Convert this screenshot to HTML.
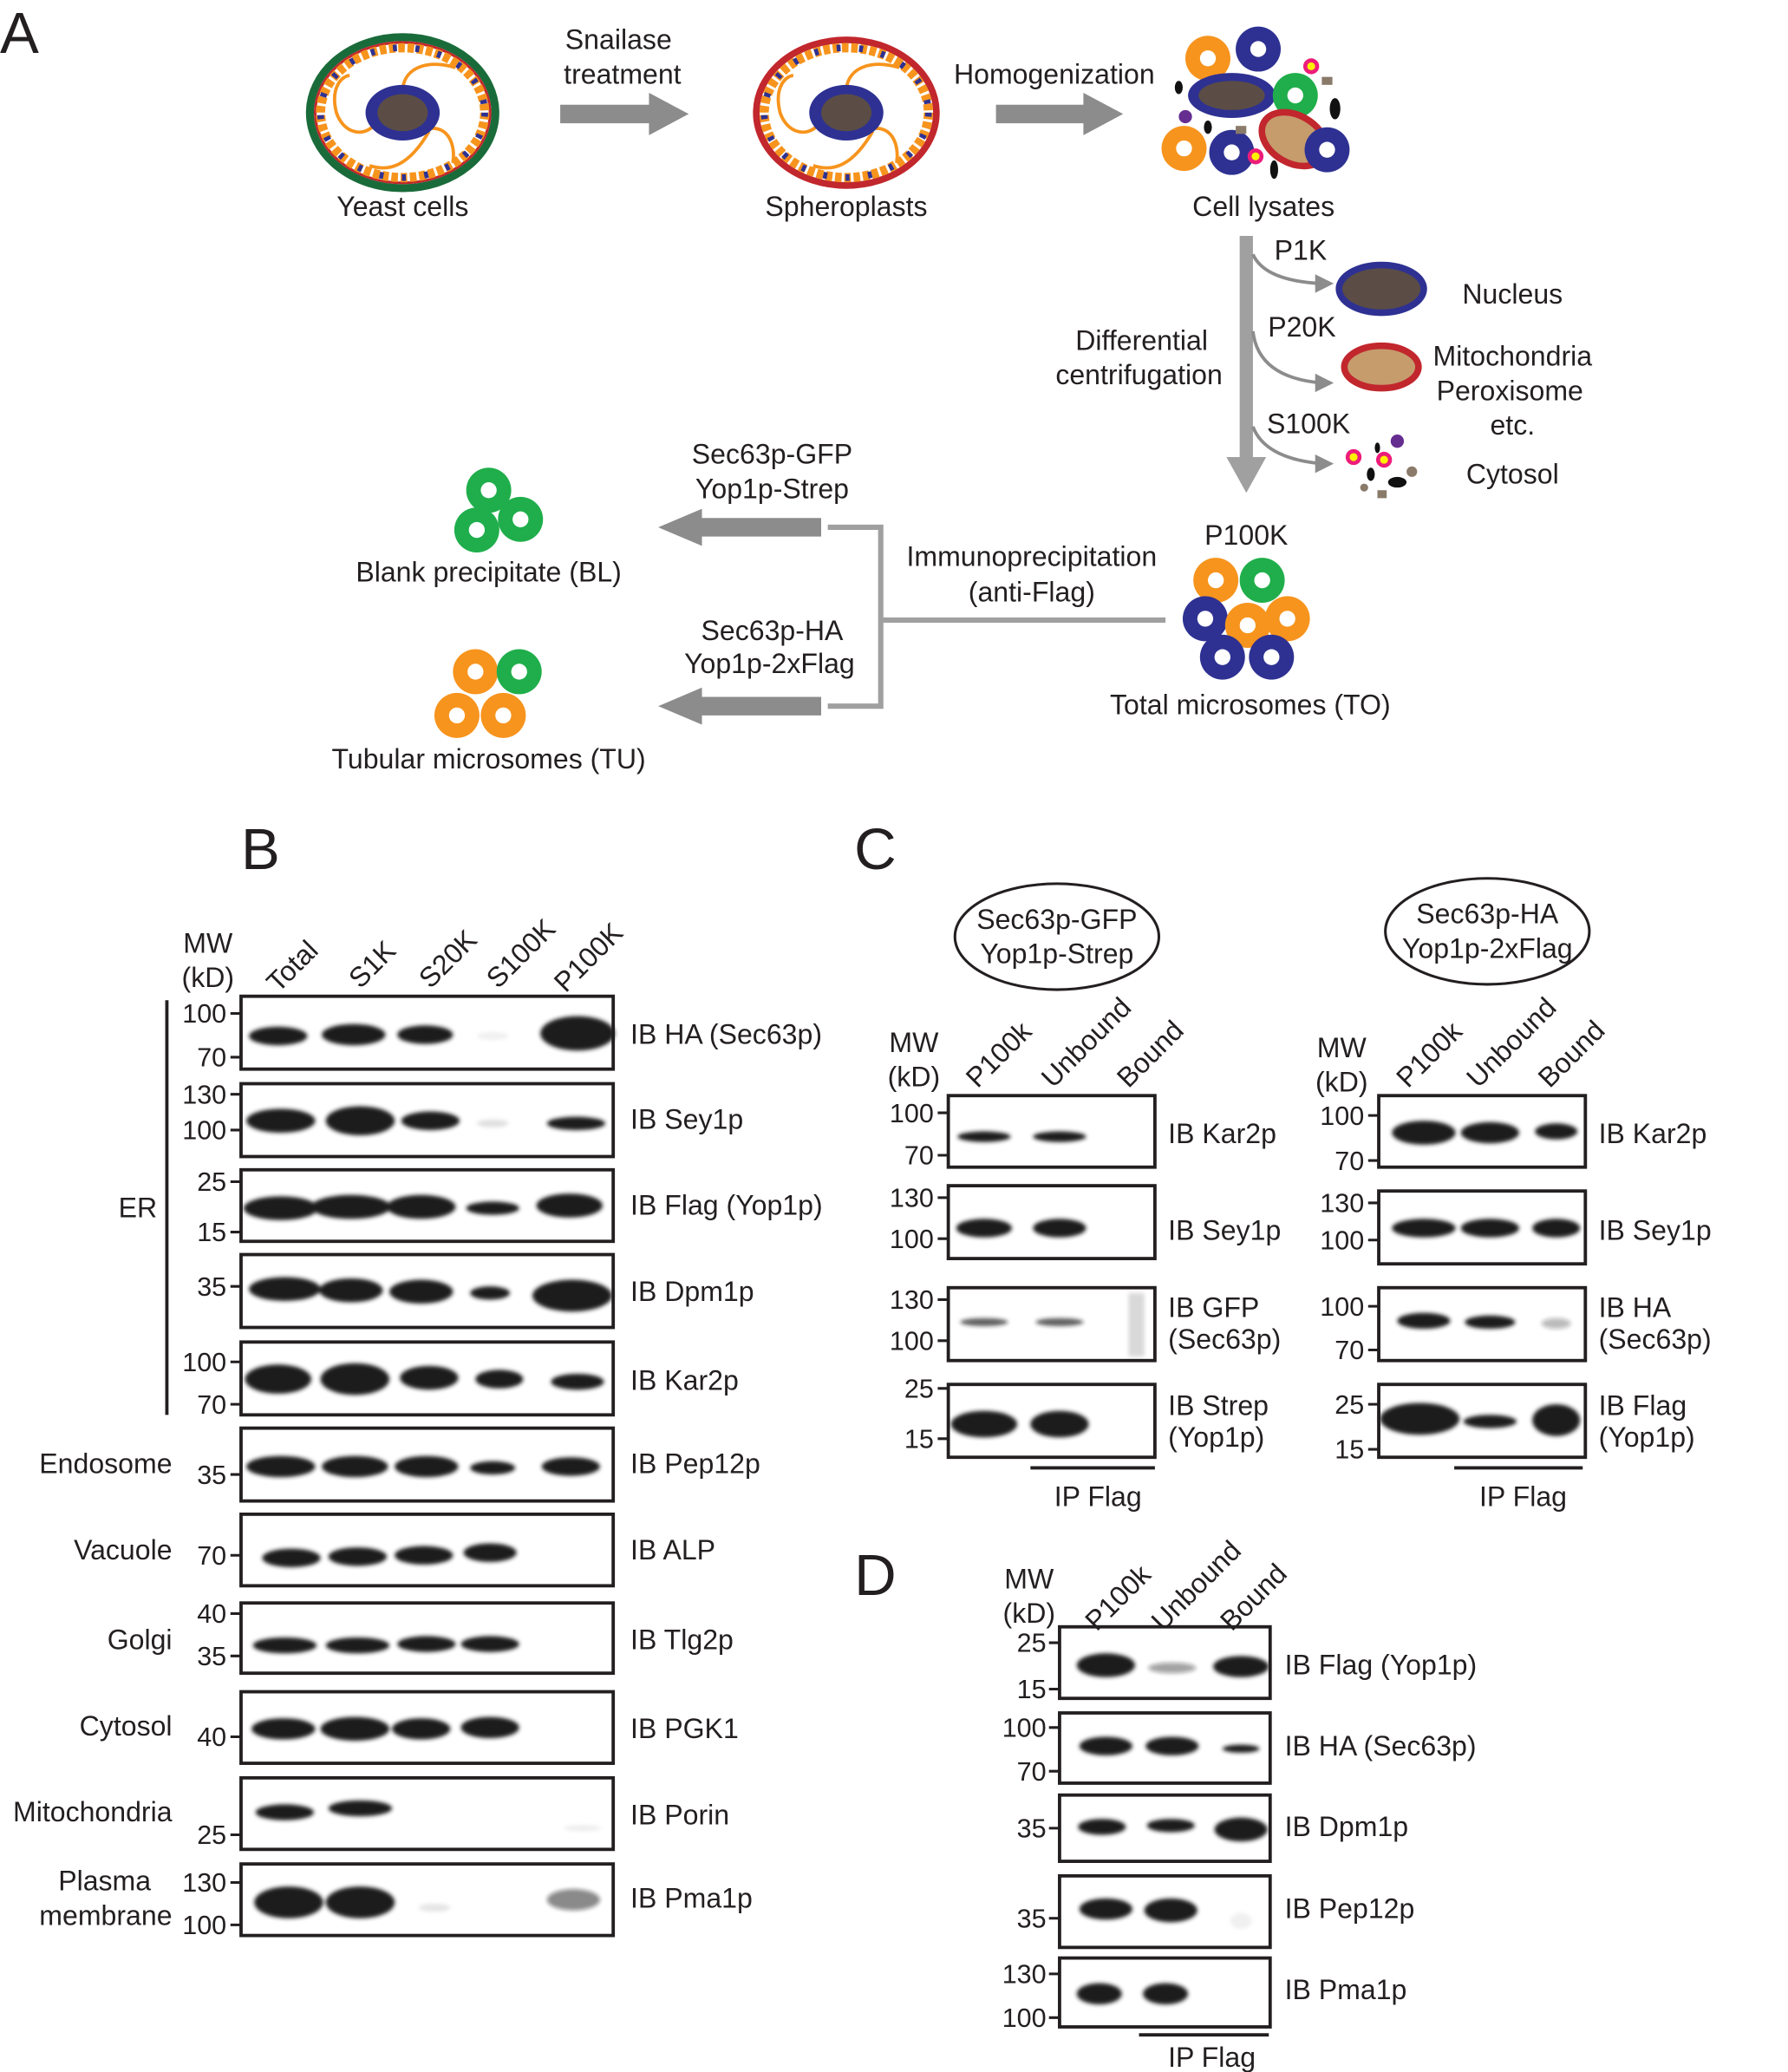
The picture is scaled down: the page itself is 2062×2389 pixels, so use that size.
<!DOCTYPE html>
<html><head><meta charset="utf-8"><style>
html,body{margin:0;padding:0;background:#fff}
svg{display:block}
text{font-family:"Liberation Sans",Arial,sans-serif;fill:#231f20}
</style></head><body>
<svg width="2062" height="2389" viewBox="0 0 1350 1564" xmlns="http://www.w3.org/2000/svg">
<defs>
<filter id="bl" x="-20%" y="-100%" width="140%" height="300%"><feGaussianBlur stdDeviation="1.6"/></filter>
<g id="cellin">
 <ellipse cx="0" cy="0" rx="62" ry="49" fill="none" stroke="#f7941d" stroke-width="7" stroke-dasharray="5 2"/>
 <ellipse cx="0" cy="0" rx="62" ry="49" fill="none" stroke="#2e3192" stroke-width="5" stroke-dasharray="3 14"/>
 <path d="M0,-18 C2,-35 20,-40 40,-34 M-20,8 C-30,20 -45,15 -50,0 C-55,-20 -45,-28 -40,-28 M20,12 C35,10 40,25 38,38 M20,14 C5,40 -10,45 -25,40" fill="none" stroke="#f7941d" stroke-width="2.5"/>
 <ellipse cx="0" cy="0" rx="28" ry="21" fill="#2e3192"/>
 <ellipse cx="0" cy="0" rx="19" ry="14" fill="#5b4d45"/>
</g>
<g id="og"><circle r="17" fill="#f7941d"/><circle r="6" fill="#fff"/></g>
<g id="gr"><circle r="17" fill="#1fae4b"/><circle r="6" fill="#fff"/></g>
<g id="bu"><circle r="17" fill="#2e3192"/><circle r="6" fill="#fff"/></g>
<g id="fl"><circle r="6" fill="#ed1c7a"/><circle r="3" fill="#fff200"/></g>
</defs>

<!-- Panel A -->
<text x="0" y="40" font-size="44">A</text>
<g transform="translate(304,85)"><ellipse rx="70" ry="57" fill="#fff" stroke="#1a6b3a" stroke-width="6"/><ellipse rx="66" ry="53" fill="none" stroke="#c1272d" stroke-width="2"/><use href="#cellin"/></g>
<text x="304" y="163" font-size="21" text-anchor="middle">Yeast cells</text>
<text x="467" y="37" font-size="21" text-anchor="middle">Snailase</text>
<text x="470" y="63" font-size="21" text-anchor="middle">treatment</text>
<polygon points="423,79 490,79 490,70 520,86 490,102 490,93 423,93" fill="#8c8c8c"/>
<g transform="translate(639,85)"><ellipse rx="68" ry="55" fill="#fff" stroke="#c1272d" stroke-width="5"/><use href="#cellin"/></g>
<text x="639" y="163" font-size="21" text-anchor="middle">Spheroplasts</text>
<text x="796" y="63" font-size="21" text-anchor="middle">Homogenization</text>
<polygon points="752,79 818,79 818,70 848,86 818,102 818,93 752,93" fill="#8c8c8c"/>
<use href="#og" x="912" y="44"/><use href="#bu" x="950" y="37"/><use href="#fl" x="990" y="50"/>
<ellipse cx="930" cy="72" rx="33" ry="17" fill="#2e3192"/><ellipse cx="930" cy="72" rx="25" ry="11" fill="#5b4d45"/>
<use href="#gr" x="978" y="72"/>
<ellipse cx="1008" cy="82" rx="4" ry="8" fill="#111"/><ellipse cx="890" cy="66" rx="3" ry="5" fill="#111"/>
<circle cx="895" cy="88" r="5" fill="#662d91"/><rect x="998" y="58" width="8" height="6" fill="#8a7a6a"/>
<use href="#og" x="894" y="112"/><use href="#bu" x="930" y="115"/><use href="#fl" x="948" y="118"/>
<ellipse cx="977" cy="105" rx="26" ry="18" fill="#c69c6d" stroke="#c1272d" stroke-width="5" transform="rotate(30 977 105)"/>
<use href="#bu" x="1002" y="113"/><ellipse cx="962" cy="128" rx="3" ry="7" fill="#111"/><rect x="933" y="95" width="8" height="6" fill="#8a7a6a"/><ellipse cx="912" cy="96" rx="3" ry="5" fill="#111"/>
<text x="954" y="163" font-size="21" text-anchor="middle">Cell lysates</text>
<polygon points="936,178 946,178 946,345 956,345 941,372 926,345 936,345" fill="#a0a0a0"/>
<g fill="none" stroke="#8c8c8c" stroke-width="2.5">
<path d="M946,192 Q955,212 998,214"/><path d="M946,250 Q950,285 998,289"/><path d="M946,322 Q955,346 998,350"/></g>
<g fill="#8c8c8c"><polygon points="1007,214 993,207 993,221"/><polygon points="1007,289 993,282 993,296"/><polygon points="1007,350 993,343 993,357"/></g>
<text x="982" y="196" font-size="21" text-anchor="middle">P1K</text>
<text x="983" y="254" font-size="21" text-anchor="middle">P20K</text>
<text x="988" y="327" font-size="21" text-anchor="middle">S100K</text>
<ellipse cx="1043" cy="218" rx="32" ry="18" fill="#5b4d45" stroke="#2e3192" stroke-width="5"/>
<ellipse cx="1043" cy="277" rx="28" ry="16" fill="#c69c6d" stroke="#c1272d" stroke-width="5"/>
<g><use href="#fl" x="1022" y="345"/><use href="#fl" x="1045" y="347"/><circle cx="1055" cy="333" r="5" fill="#662d91"/><ellipse cx="1040" cy="338" rx="2" ry="4" fill="#111"/><ellipse cx="1035" cy="358" rx="3" ry="5" fill="#111"/><ellipse cx="1055" cy="364" rx="7" ry="4" fill="#111"/><circle cx="1066" cy="356" r="4" fill="#8a7a6a"/><rect x="1040" y="370" width="7" height="6" fill="#8a7a6a"/><circle cx="1030" cy="368" r="3" fill="#8a7a6a"/></g>
<text x="1142" y="229" font-size="21" text-anchor="middle">Nucleus</text>
<text x="1142" y="276" font-size="21" text-anchor="middle">Mitochondria</text>
<text x="1140" y="302" font-size="21" text-anchor="middle">Peroxisome</text>
<text x="1142" y="328" font-size="21" text-anchor="middle">etc.</text>
<text x="1142" y="365" font-size="21" text-anchor="middle">Cytosol</text>
<text x="862" y="264" font-size="21" text-anchor="middle">Differential</text>
<text x="860" y="290" font-size="21" text-anchor="middle">centrifugation</text>
<text x="941" y="411" font-size="21" text-anchor="middle">P100K</text>
<use href="#og" x="918" y="438"/><use href="#gr" x="953" y="438"/><use href="#bu" x="910" y="467"/><use href="#og" x="942" y="472"/><use href="#og" x="972" y="467"/><use href="#bu" x="923" y="496"/><use href="#bu" x="960" y="496"/>
<text x="944" y="539" font-size="21" text-anchor="middle">Total microsomes (TO)</text>
<g stroke="#a0a0a0" stroke-width="4" fill="none"><path d="M880,468 H666"/><path d="M625,398 H665 V533 H625"/></g>
<polygon points="620,391 530,391 530,384 497,398 530,412 530,405 620,405" fill="#8c8c8c"/>
<polygon points="620,526 530,526 530,519 497,533 530,547 530,540 620,540" fill="#8c8c8c"/>
<text x="779" y="427" font-size="21" text-anchor="middle">Immunoprecipitation</text>
<text x="779" y="454" font-size="21" text-anchor="middle">(anti-Flag)</text>
<text x="583" y="350" font-size="21" text-anchor="middle">Sec63p-GFP</text>
<text x="583" y="376" font-size="21" text-anchor="middle">Yop1p-Strep</text>
<text x="583" y="483" font-size="21" text-anchor="middle">Sec63p-HA</text>
<text x="581" y="508" font-size="21" text-anchor="middle">Yop1p-2xFlag</text>
<use href="#gr" x="369" y="370"/><use href="#gr" x="393" y="392"/><use href="#gr" x="360" y="400"/>
<text x="369" y="439" font-size="21" text-anchor="middle">Blank precipitate (BL)</text>
<use href="#og" x="359" y="507"/><use href="#gr" x="392" y="507"/><use href="#og" x="345" y="540"/><use href="#og" x="380" y="540"/>
<text x="369" y="580" font-size="21" text-anchor="middle">Tubular microsomes (TU)</text>

<!-- Panel B -->
<text x="182" y="656" font-size="44">B</text>
<text x="157" y="719" font-size="21" text-anchor="middle">MW</text>
<text x="157" y="745" font-size="21" text-anchor="middle">(kD)</text>
<g font-size="21">
<text transform="translate(210,750) rotate(-45)">Total</text>
<text transform="translate(272,747) rotate(-45)">S1K</text>
<text transform="translate(325,747) rotate(-45)">S20K</text>
<text transform="translate(376,747) rotate(-45)">S100K</text>
<text transform="translate(427,750) rotate(-45)">P100K</text>
</g>
<line x1="126" y1="755" x2="126" y2="1068" stroke="#231f20" stroke-width="2.5"/>
<text x="104" y="919" font-size="21" text-anchor="middle">ER</text>
<g font-size="21" text-anchor="end">
<text x="130" y="1112">Endosome</text><text x="130" y="1177">Vacuole</text><text x="130" y="1245">Golgi</text><text x="130" y="1310">Cytosol</text><text x="130" y="1375">Mitochondria</text><text x="114" y="1427">Plasma</text><text x="130" y="1453">membrane</text>
</g>
<g fill="none" stroke="#231f20" stroke-width="2.5">
<rect x="182" y="752" width="281" height="55"/><rect x="182" y="818" width="281" height="55"/><rect x="182" y="883" width="281" height="54"/><rect x="182" y="947" width="281" height="55"/><rect x="182" y="1013" width="281" height="55"/><rect x="182" y="1078" width="281" height="55"/><rect x="182" y="1143" width="281" height="54"/><rect x="182" y="1210" width="281" height="53"/><rect x="182" y="1277" width="281" height="54"/><rect x="182" y="1342" width="281" height="54"/><rect x="182" y="1407" width="281" height="54"/>
</g>
<g stroke="#231f20" stroke-width="2">
<path d="M174,765H182M174,798H182M174,826H182M174,853H182M174,892H182M174,930H182M174,971H182M174,1028H182M174,1060H182M174,1113H182M174,1174H182M174,1218H182M174,1250H182M174,1311H182M174,1385H182M174,1421H182M174,1453H182"/>
</g>
<g font-size="20" text-anchor="end">
<text x="171" y="772">100</text><text x="171" y="805">70</text><text x="171" y="833">130</text><text x="171" y="860">100</text><text x="171" y="899">25</text><text x="171" y="937">15</text><text x="171" y="978">35</text><text x="171" y="1035">100</text><text x="171" y="1067">70</text><text x="171" y="1120">35</text><text x="171" y="1181">70</text><text x="171" y="1225">40</text><text x="171" y="1257">35</text><text x="171" y="1318">40</text><text x="171" y="1392">25</text><text x="171" y="1428">130</text><text x="171" y="1460">100</text>
</g>
<g font-size="21">
<text x="476" y="788">IB HA (Sec63p)</text><text x="476" y="852">IB Sey1p</text><text x="476" y="917">IB Flag (Yop1p)</text><text x="476" y="982">IB Dpm1p</text><text x="476" y="1049">IB Kar2p</text><text x="476" y="1112">IB Pep12p</text><text x="476" y="1177">IB ALP</text><text x="476" y="1245">IB Tlg2p</text><text x="476" y="1312">IB PGK1</text><text x="476" y="1377">IB Porin</text><text x="476" y="1440">IB Pma1p</text>
</g>
<g fill="#1a1a1a" filter="url(#bl)">
<ellipse cx="210" cy="782" rx="22" ry="7"/><ellipse cx="267" cy="781" rx="24" ry="8"/><ellipse cx="321" cy="781" rx="21" ry="7"/><ellipse cx="372" cy="782" rx="12" ry="3" opacity="0.06"/><ellipse cx="436" cy="780" rx="28" ry="13"/>
<ellipse cx="212" cy="846" rx="26" ry="9"/><ellipse cx="272" cy="846" rx="26" ry="11"/><ellipse cx="325" cy="846" rx="22" ry="7"/><ellipse cx="372" cy="848" rx="12" ry="3" opacity="0.12"/><ellipse cx="435" cy="848" rx="22" ry="5"/>
<ellipse cx="212" cy="912" rx="28" ry="9"/><ellipse cx="265" cy="911" rx="30" ry="9"/><ellipse cx="318" cy="911" rx="26" ry="9"/><ellipse cx="372" cy="912" rx="20" ry="5"/><ellipse cx="430" cy="910" rx="25" ry="9"/>
<ellipse cx="215" cy="973" rx="27" ry="9"/><ellipse cx="265" cy="974" rx="24" ry="9"/><ellipse cx="318" cy="975" rx="24" ry="9"/><ellipse cx="370" cy="976" rx="15" ry="5"/><ellipse cx="432" cy="978" rx="30" ry="12"/>
<ellipse cx="210" cy="1041" rx="25" ry="11"/><ellipse cx="268" cy="1041" rx="26" ry="12"/><ellipse cx="324" cy="1040" rx="22" ry="9"/><ellipse cx="377" cy="1041" rx="18" ry="7"/><ellipse cx="436" cy="1043" rx="20" ry="6"/>
<ellipse cx="212" cy="1107" rx="26" ry="8"/><ellipse cx="268" cy="1107" rx="25" ry="8"/><ellipse cx="322" cy="1107" rx="24" ry="8"/><ellipse cx="372" cy="1108" rx="17" ry="5"/><ellipse cx="431" cy="1107" rx="22" ry="7"/>
<ellipse cx="220" cy="1176" rx="22" ry="7"/><ellipse cx="270" cy="1175" rx="22" ry="7"/><ellipse cx="320" cy="1174" rx="22" ry="7"/><ellipse cx="370" cy="1172" rx="20" ry="7"/>
<ellipse cx="215" cy="1242" rx="24" ry="6"/><ellipse cx="270" cy="1242" rx="24" ry="6"/><ellipse cx="322" cy="1241" rx="22" ry="6"/><ellipse cx="370" cy="1241" rx="22" ry="6"/>
<ellipse cx="214" cy="1305" rx="24" ry="8"/><ellipse cx="268" cy="1305" rx="26" ry="9"/><ellipse cx="318" cy="1305" rx="22" ry="8"/><ellipse cx="370" cy="1304" rx="22" ry="8"/>
<ellipse cx="215" cy="1368" rx="22" ry="6"/><ellipse cx="272" cy="1365" rx="24" ry="6"/><ellipse cx="440" cy="1380" rx="14" ry="2" opacity="0.08"/>
<ellipse cx="218" cy="1436" rx="26" ry="12"/><ellipse cx="272" cy="1436" rx="26" ry="12"/><ellipse cx="328" cy="1440" rx="12" ry="3" opacity="0.1"/><ellipse cx="433" cy="1434" rx="20" ry="8" opacity="0.5"/>
</g>

<!-- Panel C -->
<text x="645" y="656" font-size="44">C</text>
<ellipse cx="798" cy="707" rx="77" ry="40" fill="none" stroke="#231f20" stroke-width="2"/>
<text x="798" y="701" font-size="21" text-anchor="middle">Sec63p-GFP</text>
<text x="798" y="727" font-size="21" text-anchor="middle">Yop1p-Strep</text>
<ellipse cx="1123" cy="703" rx="77" ry="40" fill="none" stroke="#231f20" stroke-width="2"/>
<text x="1123" y="697" font-size="21" text-anchor="middle">Sec63p-HA</text>
<text x="1123" y="723" font-size="21" text-anchor="middle">Yop1p-2xFlag</text>
<g font-size="21" text-anchor="middle">
<text x="690" y="794">MW</text><text x="690" y="820">(kD)</text>
<text x="1013" y="798">MW</text><text x="1013" y="824">(kD)</text>
</g>
<g font-size="21">
<text transform="translate(738,822) rotate(-45)">P100k</text>
<text transform="translate(795,822) rotate(-45)">Unbound</text>
<text transform="translate(852,822) rotate(-45)">Bound</text>
<text transform="translate(1063,822) rotate(-45)">P100k</text>
<text transform="translate(1116,822) rotate(-45)">Unbound</text>
<text transform="translate(1170,822) rotate(-45)">Bound</text>
</g>
<g fill="none" stroke="#231f20" stroke-width="2.5">
<rect x="716" y="827" width="156" height="54"/><rect x="716" y="895" width="156" height="55"/><rect x="716" y="972" width="156" height="55"/><rect x="716" y="1045" width="156" height="55"/>
<rect x="1041" y="827" width="156" height="54"/><rect x="1041" y="899" width="156" height="55"/><rect x="1041" y="972" width="156" height="55"/><rect x="1041" y="1045" width="156" height="55"/>
<path d="M778,1108H872M1098,1108H1195"/>
</g>
<g stroke="#231f20" stroke-width="2">
<path d="M708,840H716M708,872H716M708,904H716M708,935H716M708,981H716M708,1012H716M708,1048H716M708,1086H716"/>
<path d="M1033,842H1041M1033,876H1041M1033,908H1041M1033,936H1041M1033,986H1041M1033,1019H1041M1033,1060H1041M1033,1094H1041"/>
</g>
<g font-size="20" text-anchor="end">
<text x="705" y="847">100</text><text x="705" y="879">70</text><text x="705" y="911">130</text><text x="705" y="942">100</text><text x="705" y="988">130</text><text x="705" y="1019">100</text><text x="705" y="1055">25</text><text x="705" y="1093">15</text>
<text x="1030" y="849">100</text><text x="1030" y="883">70</text><text x="1030" y="915">130</text><text x="1030" y="943">100</text><text x="1030" y="993">100</text><text x="1030" y="1026">70</text><text x="1030" y="1067">25</text><text x="1030" y="1101">15</text>
</g>
<g font-size="21">
<text x="882" y="863">IB Kar2p</text><text x="882" y="936">IB Sey1p</text><text x="882" y="994">IB GFP</text><text x="882" y="1018">(Sec63p)</text><text x="882" y="1068">IB Strep</text><text x="882" y="1092">(Yop1p)</text>
<text x="1207" y="863">IB Kar2p</text><text x="1207" y="936">IB Sey1p</text><text x="1207" y="994">IB HA</text><text x="1207" y="1018">(Sec63p)</text><text x="1207" y="1068">IB Flag</text><text x="1207" y="1092">(Yop1p)</text>
<text x="829" y="1137" text-anchor="middle">IP Flag</text><text x="1150" y="1137" text-anchor="middle">IP Flag</text>
</g>
<g fill="#1a1a1a" filter="url(#bl)">
<ellipse cx="743" cy="858" rx="20" ry="4"/><ellipse cx="800" cy="858" rx="20" ry="4"/>
<ellipse cx="743" cy="927" rx="21" ry="7"/><ellipse cx="800" cy="927" rx="20" ry="7"/>
<ellipse cx="743" cy="998" rx="18" ry="3" opacity="0.7"/><ellipse cx="800" cy="998" rx="18" ry="3" opacity="0.7"/><rect x="852" y="976" width="12" height="48" opacity="0.15"/>
<ellipse cx="743" cy="1075" rx="25" ry="10"/><ellipse cx="800" cy="1075" rx="22" ry="10"/>
<ellipse cx="1075" cy="855" rx="24" ry="9"/><ellipse cx="1125" cy="855" rx="22" ry="8"/><ellipse cx="1175" cy="854" rx="16" ry="6"/>
<ellipse cx="1075" cy="927" rx="24" ry="7"/><ellipse cx="1125" cy="927" rx="22" ry="7"/><ellipse cx="1175" cy="927" rx="18" ry="7"/>
<ellipse cx="1075" cy="997" rx="20" ry="6"/><ellipse cx="1125" cy="998" rx="19" ry="5"/><ellipse cx="1175" cy="999" rx="11" ry="4" opacity="0.3"/>
<ellipse cx="1072" cy="1071" rx="30" ry="12"/><ellipse cx="1125" cy="1073" rx="20" ry="5"/><ellipse cx="1175" cy="1072" rx="18" ry="12"/>
</g>

<!-- Panel D -->
<text x="645" y="1204" font-size="44">D</text>
<text x="777" y="1199" font-size="21" text-anchor="middle">MW</text>
<text x="777" y="1225" font-size="21" text-anchor="middle">(kD)</text>
<g font-size="21">
<text transform="translate(828,1232) rotate(-45)">P100k</text>
<text transform="translate(878,1232) rotate(-45)">Unbound</text>
<text transform="translate(930,1232) rotate(-45)">Bound</text>
</g>
<g fill="none" stroke="#231f20" stroke-width="2.5">
<rect x="800" y="1228" width="159" height="54"/><rect x="800" y="1293" width="159" height="53"/><rect x="800" y="1355" width="159" height="50"/><rect x="800" y="1416" width="159" height="54"/><rect x="800" y="1478" width="159" height="52"/>
<path d="M860,1536H958"/>
</g>
<g stroke="#231f20" stroke-width="2"><path d="M792,1240H800M792,1275H800M792,1304H800M792,1337H800M792,1380H800M792,1448H800M792,1490H800M792,1523H800"/></g>
<g font-size="20" text-anchor="end">
<text x="790" y="1247">25</text><text x="790" y="1282">15</text><text x="790" y="1311">100</text><text x="790" y="1344">70</text><text x="790" y="1387">35</text><text x="790" y="1455">35</text><text x="790" y="1497">130</text><text x="790" y="1530">100</text>
</g>
<g font-size="21">
<text x="970" y="1264">IB Flag (Yop1p)</text><text x="970" y="1325">IB HA (Sec63p)</text><text x="970" y="1386">IB Dpm1p</text><text x="970" y="1448">IB Pep12p</text><text x="970" y="1509">IB Pma1p</text>
<text x="915" y="1560" text-anchor="middle">IP Flag</text>
</g>
<g fill="#1a1a1a" filter="url(#bl)">
<ellipse cx="835" cy="1257" rx="22" ry="9"/><ellipse cx="885" cy="1259" rx="18" ry="4" opacity="0.4"/><ellipse cx="937" cy="1258" rx="21" ry="8"/>
<ellipse cx="835" cy="1318" rx="20" ry="7"/><ellipse cx="885" cy="1318" rx="20" ry="7"/><ellipse cx="937" cy="1320" rx="14" ry="3"/>
<ellipse cx="832" cy="1379" rx="18" ry="6"/><ellipse cx="884" cy="1378" rx="18" ry="5"/><ellipse cx="937" cy="1381" rx="20" ry="9"/>
<ellipse cx="835" cy="1441" rx="20" ry="8"/><ellipse cx="884" cy="1442" rx="20" ry="9"/><ellipse cx="937" cy="1450" rx="8" ry="6" opacity="0.06"/>
<ellipse cx="830" cy="1505" rx="17" ry="8"/><ellipse cx="880" cy="1505" rx="17" ry="8"/>
</g>
</svg>
</body></html>
